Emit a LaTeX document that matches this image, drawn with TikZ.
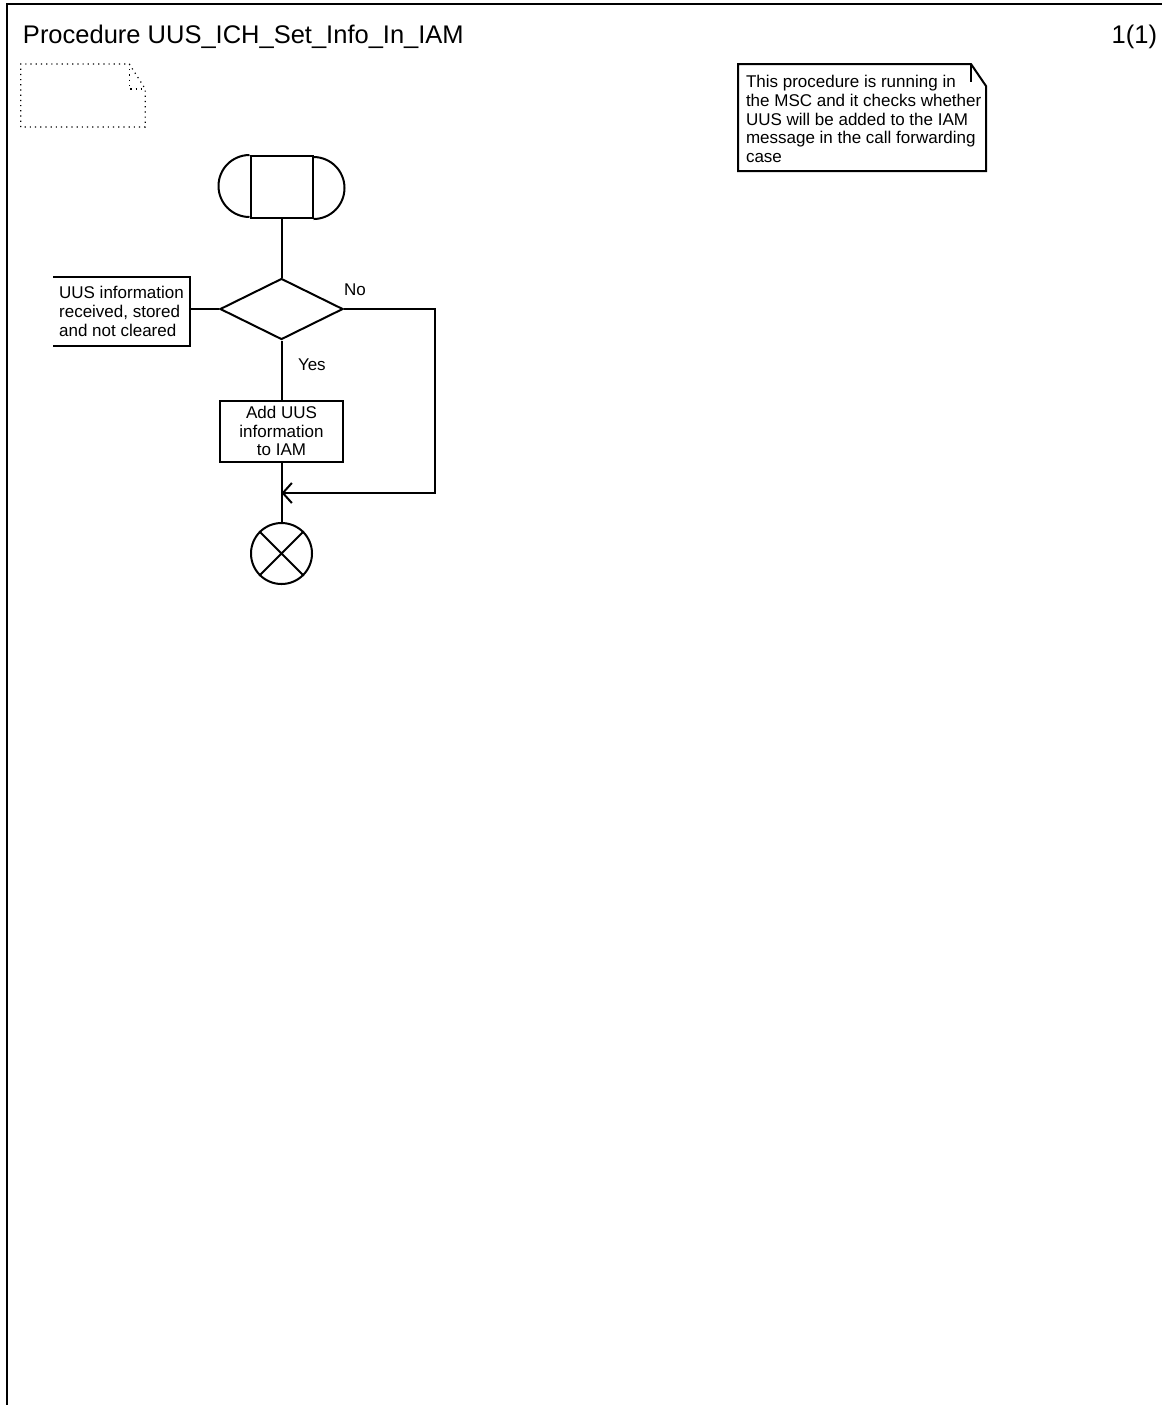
\documentclass[tikz,border=0pt]{standalone}
\usepackage{fontspec}
\setmainfont{Liberation Sans}
\usetikzlibrary{shapes,arrows.meta}

\begin{document}
\begin{tikzpicture}[x=0.5pt,y=-0.5pt,line width=1pt,
  txt/.style={font=\fontsize{8.5pt}{9.35pt}\selectfont},
  startsym/.style={rectangle,draw,minimum width=31pt,minimum height=31pt,inner sep=0pt},
  decision/.style={diamond,draw,minimum width=61.5pt,minimum height=30.5pt,inner sep=0pt},
  task/.style={rectangle,draw,txt,align=center,minimum width=61.5pt,minimum height=30.5pt,inner sep=0pt},
  comment/.style={rectangle,txt,align=left,minimum width=67.5pt,minimum height=33.5pt,inner sep=2pt},
  stopsym/.style={circle,draw,minimum size=30.5pt,inner sep=0pt},
  flow/.style={-{Straight Barb[length=4.5pt,width=10pt]}}]
\useasboundingbox (0,0) rectangle (1162,1405);
% frame and heading
\draw (7,1405) -- (7,4) -- (1162,4);
\node [anchor=base west,inner sep=0pt,font=\fontsize{12.75pt}{15pt}\selectfont] (title) at (22,43) {Procedure UUS\_ICH\_Set\_Info\_In\_IAM};
\node [anchor=base east,inner sep=0pt,font=\fontsize{12.75pt}{15pt}\selectfont] (page) at (1158,43) {1(1)};
% empty dotted note
\node [minimum width=61.3pt,minimum height=30.5pt,inner sep=0pt] (blank) at (83,95.5) {};
\draw [dotted,line width=0.6pt] (blank.south west) -- (blank.north west) -- ([xshift=-8pt]blank.north east)
	-- ([yshift=-12.5pt]blank.north east) -- (blank.south east) -- cycle;
\draw [dotted,line width=0.6pt] ([xshift=-8pt]blank.north east) -- ++(0,25) -- ([yshift=-12.5pt]blank.north east);
% comment on the right
\node [minimum width=123pt,minimum height=52.5pt,inner sep=0pt] (info) at (862,117.5) {};
\draw (info.south west) -- (info.north west) -- ([xshift=-7.5pt]info.north east)
	-- ([yshift=-11pt]info.north east) -- (info.south east) -- cycle;
\draw ([xshift=-7.5pt]info.north east) -- ++(0,18);
\node [txt,anchor=north west,align=left,inner sep=0pt] (infotext) at (745,74.3) {This procedure is running in\\the MSC and it checks whether\\UUS will be added to the IAM\\message in the call forwarding\\case};
% flow
\node [startsym] (start) at (281.5,187) {};
\draw (start.north west) arc (90:270:15.5pt);
\draw (start.south east) arc (-90:90:15.5pt);
\node [decision] (dec) at (281.5,309) {};
\node [comment] (ext) at (121.5,311.5) {UUS information\\received, stored\\and not cleared};
\draw (ext.north west) -- (ext.north east) -- (ext.south east) -- (ext.south west);
\node [task] (add) at (281.5,431) {Add UUS\\information\\to IAM};
\coordinate (merge) at (281.5,493);
\node [stopsym] (stop) at (281.5,553.5) {};
\draw (stop.north west) -- (stop.south east) (stop.north east) -- (stop.south west);

\draw (start.south) -- (dec.north);
\draw (dec.west) -- (dec.west -| ext.east);
\draw (dec.south) -- (add.north);
\draw (add.south) -- (stop.north);
\draw [flow] (dec.east) -- ++(91,0) |- (merge);
\node [txt,anchor=base west,inner sep=0pt] (no) at (343,295) {No};
\node [txt,anchor=base west,inner sep=0pt] (yes) at (297,370) {Yes};
\end{tikzpicture}
\end{document}
